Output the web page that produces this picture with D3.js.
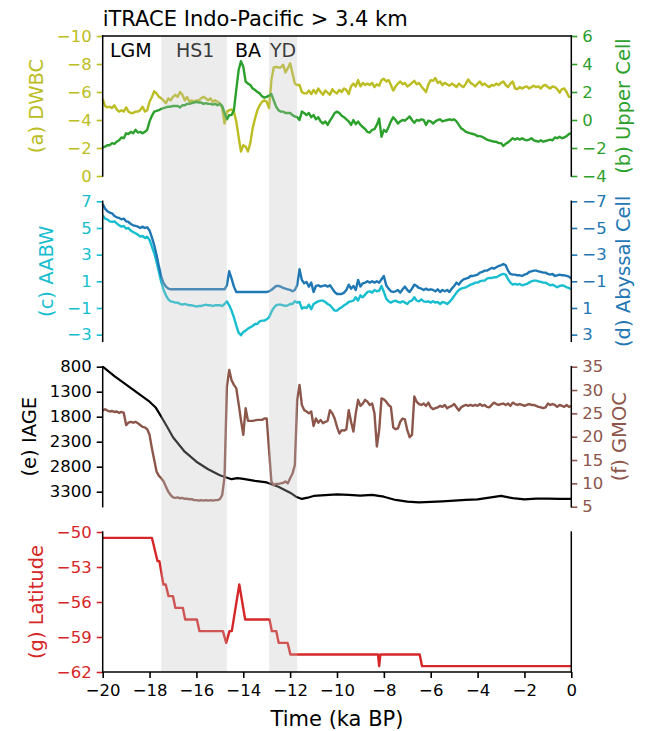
<!DOCTYPE html>
<html>
<head>
<meta charset="utf-8">
<script src="https://cdn.jsdelivr.net/npm/d3@7"></script>
<style>
  body { margin: 0; background: #fff; }
  svg { display: block; font-family: "DejaVu Sans", sans-serif; }
</style>
</head>
<body>
<svg id="chart" width="646" height="731"></svg>
<script>
// ---------------- data ----------------
// model time axis, ka BP (0.1 ka sampling)
const time = [
  -20,-19.9,-19.8,-19.7,-19.6,-19.5,-19.4,-19.3,-19.2,-19.1,
  -19,-18.9,-18.8,-18.7,-18.6,-18.5,-18.4,-18.3,-18.2,-18.1,
  -18,-17.9,-17.8,-17.7,-17.6,-17.5,-17.4,-17.3,-17.2,-17.1,
  -17,-16.9,-16.8,-16.7,-16.6,-16.5,-16.4,-16.3,-16.2,-16.1,
  -16,-15.9,-15.8,-15.7,-15.6,-15.5,-15.4,-15.3,-15.2,-15.1,
  -15,-14.9,-14.8,-14.7,-14.6,-14.5,-14.4,-14.3,-14.2,-14.1,
  -14,-13.9,-13.8,-13.7,-13.6,-13.5,-13.4,-13.3,-13.2,-13.1,
  -13,-12.9,-12.8,-12.7,-12.6,-12.5,-12.4,-12.3,-12.2,-12.1,
  -12,-11.9,-11.8,-11.7,-11.6,-11.5,-11.4,-11.3,-11.2,-11.1,
  -11,-10.9,-10.8,-10.7,-10.6,-10.5,-10.4,-10.3,-10.2,-10.1,
  -10,-9.9,-9.8,-9.7,-9.6,-9.5,-9.4,-9.3,-9.2,-9.1,
  -9,-8.9,-8.8,-8.7,-8.6,-8.5,-8.4,-8.3,-8.2,-8.1,
  -8,-7.9,-7.8,-7.7,-7.6,-7.5,-7.4,-7.3,-7.2,-7.1,
  -7,-6.9,-6.8,-6.7,-6.6,-6.5,-6.4,-6.3,-6.2,-6.1,
  -6,-5.9,-5.8,-5.7,-5.6,-5.5,-5.4,-5.3,-5.2,-5.1,
  -5,-4.9,-4.8,-4.7,-4.6,-4.5,-4.4,-4.3,-4.2,-4.1,
  -4,-3.9,-3.8,-3.7,-3.6,-3.5,-3.4,-3.3,-3.2,-3.1,
  -3,-2.9,-2.8,-2.7,-2.6,-2.5,-2.4,-2.3,-2.2,-2.1,
  -2,-1.9,-1.8,-1.7,-1.6,-1.5,-1.4,-1.3,-1.2,-1.1,
  -1,-0.9,-0.8,-0.7,-0.6,-0.5,-0.4,-0.3,-0.2,-0.1,
  0
];

// (a) deep western boundary current transport, Sv
const dwbc = [
  -5.5,-5.0,-4.9,-4.95,-4.85,-5.05,-4.75,-4.6,-4.7,-4.6,
  -4.9,-4.6,-4.5,-4.5,-4.6,-4.6,-4.7,-4.95,-4.6,-4.7,
  -5.3,-5.65,-6.05,-5.9,-5.65,-5.55,-5.4,-5.2,-5.55,-5.4,
  -5.65,-5.8,-5.65,-6.0,-5.8,-5.4,-5.65,-5.3,-5.4,-5.3,
  -5.4,-5.4,-5.55,-5.65,-5.55,-5.4,-5.55,-5.3,-5.4,-5.3,
  -5.2,-4.85,-3.75,-4.6,-4.7,-4.75,-4.6,-3.9,-2.8,-1.75,
  -2.2,-2.1,-1.75,-2.35,-3.4,-4.1,-4.7,-5.05,-5.3,-5.4,
  -5.3,-4.85,-6.85,-7.75,-7.8,-7.75,-7.75,-7.95,-7.4,-7.7,
  -8.05,-7.35,-6.6,-6.5,-6.5,-6.0,-5.9,-5.9,-6.1,-5.85,
  -6.15,-5.9,-6.25,-6.0,-5.8,-6.1,-5.95,-5.8,-6.2,-6.0,
  -5.9,-6.15,-6.0,-6.25,-6.15,-5.85,-6.4,-6.6,-6.4,-6.85,
  -6.4,-6.65,-6.5,-6.6,-6.5,-6.65,-6.35,-6.55,-6.45,-6.85,
  -6.95,-6.75,-6.85,-6.5,-6.1,-6.4,-6.6,-6.75,-6.55,-6.65,
  -6.4,-6.5,-6.65,-6.8,-6.55,-6.65,-6.4,-6.2,-6.0,-6.55,
  -6.85,-6.8,-7.0,-6.65,-6.75,-6.5,-6.65,-6.55,-6.45,-6.6,
  -6.5,-6.35,-6.6,-6.45,-6.35,-6.6,-6.9,-6.65,-6.55,-6.4,
  -6.6,-6.75,-6.5,-6.6,-6.45,-6.35,-6.5,-6.45,-6.6,-6.5,
  -6.65,-6.75,-6.5,-6.35,-6.6,-6.75,-6.25,-6.2,-6.35,-6.25,
  -6.35,-6.4,-6.25,-6.35,-6.45,-6.35,-6.4,-6.25,-6.45,-6.5,
  -6.35,-6.25,-6.4,-6.35,-6.2,-5.95,-6.2,-6.25,-6.0,-5.65,
  -5.65
];

// (b) upper overturning cell, Sv
const upperCell = [
  -1.95,-1.9,-1.8,-1.8,-1.65,-1.7,-1.55,-1.45,-1.25,-1.3,
  -0.95,-1.0,-0.85,-0.95,-0.7,-0.9,-0.85,-0.95,-0.85,-0.7,
  -0.1,0.3,0.6,0.65,0.7,0.8,0.85,0.9,0.95,0.95,
  1.0,1.0,1.0,0.9,1.05,1.05,1.15,1.15,1.2,1.25,
  1.3,1.25,1.25,1.15,1.2,1.15,1.15,1.1,1.15,1.05,
  1.15,1.0,0.5,0.05,0.35,0.35,0.7,2.15,3.55,4.2,
  3.8,2.75,2.6,2.5,2.25,2.15,2.0,1.9,1.7,1.6,
  1.65,1.75,1.85,1.4,0.95,0.7,0.6,0.6,0.5,0.5,
  0.5,0.35,0.25,0.2,0.0,0.6,0.5,0.35,0.5,0.2,
  0.35,0.05,0.2,-0.1,-0.25,-0.1,-0.35,-0.05,0.2,0.5,
  0.6,0.5,0.3,0.2,0.05,-0.1,-0.35,0.0,-0.3,-0.1,
  -0.35,-0.5,-0.65,-0.85,-0.9,-0.7,-0.65,-0.35,0.1,-1.2,
  -0.7,-0.85,-0.5,-0.1,0.2,0.0,-0.25,-0.1,0.0,-0.05,
  0.1,0.25,0.0,-0.2,0.0,-0.05,0.05,0.0,-0.35,-0.05,
  -0.1,-0.25,-0.1,0.0,0.05,-0.1,-0.05,0.0,0.05,0.0,
  0.05,-0.1,-0.35,-0.6,-0.7,-0.85,-0.9,-0.95,-1.0,-1.05,
  -1.15,-1.15,-1.2,-1.3,-1.4,-1.45,-1.5,-1.55,-1.55,-1.65,
  -1.65,-1.85,-1.7,-1.6,-1.45,-1.3,-1.4,-1.3,-1.4,-1.3,
  -1.4,-1.45,-1.4,-1.3,-1.45,-1.5,-1.55,-1.45,-1.55,-1.5,
  -1.45,-1.4,-1.45,-1.25,-1.3,-1.2,-1.3,-1.25,-1.15,-1.0,
  -0.95
];

// (c) Antarctic bottom water transport, Sv
const aabw = [
  5.95,5.7,5.65,5.5,5.45,5.5,5.35,5.2,5.1,5.15,
  4.95,5.0,4.8,4.7,4.6,4.5,4.35,4.4,4.25,4.35,
  4.1,3.6,3.1,2.45,1.7,0.95,0.35,-0.05,-0.35,-0.5,
  -0.55,-0.6,-0.6,-0.7,-0.75,-0.7,-0.75,-0.8,-0.8,-0.85,
  -0.9,-0.85,-0.85,-0.8,-0.75,-0.8,-0.8,-0.85,-0.8,-0.8,
  -0.8,-0.85,-0.7,-0.5,-0.8,-1.2,-1.7,-2.3,-2.85,-3.05,
  -2.8,-2.7,-2.55,-2.45,-2.35,-2.2,-2.2,-2.0,-1.95,-1.95,
  -1.85,-1.7,-1.3,-1.0,-0.8,-0.75,-0.75,-0.8,-0.85,-0.8,
  -0.7,-0.7,-0.5,-0.6,-0.55,-1.05,-0.95,-1.0,-0.75,-1.1,
  -0.7,-0.6,-0.5,-0.45,-0.45,-0.55,-0.7,-0.8,-1.0,-1.2,
  -1.2,-1.05,-0.95,-0.8,-0.7,-0.55,-0.5,-0.45,-0.2,-0.45,
  -0.05,-0.2,0.0,0.2,0.25,0.15,0.35,0.25,0.3,0.65,
  0.2,-0.3,-0.5,-0.6,-0.5,-0.45,-0.55,-0.6,-0.5,-0.6,
  -0.7,-0.5,-0.45,-0.2,-0.45,-0.5,-0.35,-0.5,-0.55,-0.5,
  -0.6,-0.5,-0.6,-0.55,-0.7,-0.55,-0.6,-0.7,-0.55,-0.35,
  -0.1,0.15,0.35,0.45,0.5,0.55,0.65,0.75,0.8,0.9,
  0.9,1.0,1.05,1.05,1.2,1.25,1.25,1.3,1.3,1.4,
  1.5,1.55,1.5,1.15,0.9,0.75,0.8,0.75,0.8,0.7,
  0.75,0.8,0.9,1.0,1.05,1.05,1.0,0.95,0.9,0.9,
  0.8,0.7,0.75,0.65,0.55,0.65,0.7,0.65,0.55,0.5,
  0.4
];

// (d) abyssal overturning cell, Sv
const abyssalCell = [
  -6.8,-6.45,-6.25,-6.15,-6.1,-5.9,-5.8,-5.75,-5.65,-5.7,
  -5.5,-5.45,-5.3,-5.2,-5.15,-5.1,-5.0,-5.1,-5.0,-5.05,
  -4.8,-4.3,-3.7,-2.95,-2.1,-1.35,-0.85,-0.6,-0.45,-0.4,
  -0.4,-0.4,-0.4,-0.4,-0.4,-0.4,-0.4,-0.4,-0.4,-0.4,
  -0.4,-0.4,-0.4,-0.4,-0.4,-0.4,-0.4,-0.4,-0.4,-0.4,
  -0.4,-0.4,-0.4,-0.7,-1.75,-1.2,-0.6,-0.2,-0.2,-0.2,
  -0.2,-0.2,-0.2,-0.2,-0.2,-0.2,-0.2,-0.2,-0.2,-0.2,
  -0.2,-0.25,-0.35,-0.5,-0.65,-0.65,-0.6,-0.5,-0.45,-0.4,
  -0.35,-0.25,-0.35,-0.7,-1.9,-1.1,-0.85,-0.95,-0.6,-0.9,
  -0.2,-0.65,-0.7,-0.6,-0.65,-0.7,-0.6,-0.7,-0.45,-0.2,
  -0.05,-0.05,-0.05,-0.15,-0.35,-0.75,-0.45,-0.65,-0.35,-1.1,
  -0.6,-0.85,-0.9,-1.0,-0.9,-1.0,-0.9,-1.0,-0.9,-1.15,
  -1.4,-0.7,-0.45,-0.25,-0.2,-0.25,-0.35,-0.15,-0.4,-0.6,
  -0.35,-0.2,-0.45,-0.75,-0.65,-0.5,-0.45,-0.35,-0.45,-0.35,
  -0.4,-0.35,-0.25,-0.4,-0.2,-0.35,-0.25,-0.35,-0.2,-0.45,
  -0.65,-0.9,-0.75,-1.0,-1.15,-1.2,-1.25,-1.4,-1.4,-1.45,
  -1.5,-1.65,-1.7,-1.8,-1.8,-1.9,-2.0,-1.95,-2.05,-2.15,
  -2.2,-2.3,-2.2,-1.8,-1.55,-1.5,-1.5,-1.45,-1.45,-1.4,
  -1.5,-1.55,-1.7,-1.75,-1.8,-1.8,-1.75,-1.7,-1.65,-1.65,
  -1.55,-1.5,-1.55,-1.4,-1.45,-1.5,-1.45,-1.45,-1.4,-1.35,
  -1.2
];

// (f) global overturning, Sv
const gmoc = [
  25.6,25.9,25.6,25.4,25.5,25.3,25.4,25.1,25.3,25.1,
  22.5,23.0,23.2,23.0,23.2,22.9,22.5,22.1,22.0,21.6,
  20.4,17.5,15.0,12.5,11.6,11.1,10.4,9.3,8.2,7.5,
  7.0,6.9,7.0,6.8,6.9,6.7,6.7,6.6,6.6,6.4,
  6.4,6.3,6.4,6.3,6.4,6.3,6.4,6.3,6.4,6.4,
  6.6,7.5,11.4,30.7,34.3,32.1,31.1,30.4,27.1,23.6,
  20.4,26.1,23.4,23.4,23.4,23.5,23.6,23.6,23.6,23.9,
  23.9,17.1,10.4,9.6,9.9,9.9,10.0,10.1,10.4,10.0,
  11.1,12.1,13.9,27.9,31.1,26.8,25.7,25.4,25.0,25.4,
  22.3,23.9,23.0,23.6,22.9,23.2,23.4,25.7,25.0,23.9,
  22.1,20.7,21.4,21.3,21.6,25.7,23.2,21.1,25.0,27.9,
  26.6,27.1,27.9,27.5,26.8,27.1,25.0,17.9,21.4,28.2,
  28.0,27.5,26.8,26.4,22.0,21.6,21.8,23.2,23.9,23.7,
  21.4,19.9,20.4,28.6,27.5,27.0,26.8,27.1,26.6,27.3,
  26.3,25.9,26.1,26.3,26.6,26.4,26.8,26.1,26.4,26.6,
  27.0,26.3,25.6,26.3,26.6,26.8,26.6,26.8,26.6,26.8,
  26.6,27.0,26.6,26.8,26.4,26.3,26.8,27.3,27.0,26.8,
  27.0,27.1,26.8,27.1,26.6,27.3,27.0,26.8,27.0,26.8,
  26.6,26.8,27.0,26.8,26.8,26.6,26.4,26.3,26.1,26.3,
  27.1,26.8,27.0,26.8,26.4,26.8,26.6,26.4,26.8,26.4,
  26.6
];

// (e) ideal age, years
const iageTime = [-20,-19.5,-19,-18.5,-18,-17.75,-17.5,-17.25,-17,-16.5,-16,-15.5,-15,-14.5,-14.25,-14,
  -13.5,-13,-12.5,-12,-11.75,-11.5,-11.25,-11,-10.5,-10,-9.5,-9,-8.5,-8,-7.5,-7,-6.5,-6,-5.5,-5,
  -4.5,-4,-3.5,-3,-2.5,-2,-1.5,-1,-0.5,0];
const iage = [800,990,1160,1330,1500,1610,1800,2000,2210,2500,2700,2850,2970,3050,3030,3045,
  3085,3115,3200,3320,3400,3445,3420,3385,3370,3355,3365,3380,3365,3400,3465,3500,3515,3505,3495,3480,
  3465,3455,3420,3385,3430,3455,3440,3440,3445,3445];

// (g) latitude of the southern boundary, degrees
const latTime = [-20,-17.9,-17.66,-17.58,-17.41,-17.31,-17.19,-17.0,-16.9,-16.58,-16.48,-15.98,-15.87,
  -14.87,-14.73,-14.59,-14.49,-14.17,-13.92,-12.88,-12.78,-12.59,-12.49,-12.11,-11.99,-8.25,-8.2,-8.15,
  -6.47,-6.37,0];
const latitude = [-50.5,-50.5,-52.5,-52.5,-54.5,-54.5,-55.5,-55.5,-56.5,-56.5,-57.5,-57.5,-58.5,
  -58.5,-59.5,-58.5,-58.5,-54.5,-57.5,-57.5,-58.5,-58.5,-59.5,-59.5,-60.5,-60.5,-61.5,-60.5,
  -60.5,-61.5,-61.5];

// climate intervals
const periodStart = [-17.5, -12.9];
const periodEnd = [-14.7, -11.7];
const eventNames = ["LGM", "HS1", "BA", "YD"];
const eventTimes = [-18.8, -16.05, -13.8, -12.3];

// tick values
const timeTicks = [-20,-18,-16,-14,-12,-10,-8,-6,-4,-2,0];
const dwbcTicks = [0,-2,-4,-6,-8,-10];
const upperTicks = [-4,-2,0,2,4,6];
const aabwTicks = [-3,-1,1,3,5,7];
const abyssalTicks = [-7,-5,-3,-1,1,3];
const iageTicks = [800,1300,1800,2300,2800,3300];
const gmocTicks = [5,10,15,20,25,30,35];
const latTicks = [-62,-59,-56,-53,-50];

// ---------------- layout ----------------
const FONT = '"DejaVu Sans", sans-serif';
const TICK_FS = 16.5, LABEL_FS = 19.5, TITLE_FS = 21, EVENT_FS = 19;
const LW = 2.4;
const C = {
  olive: "#bcbd22", green: "#2ca02c", cyan: "#17becf", blue: "#1f77b4",
  brown: "#8c564b", red: "#d62728", black: "#000000"
};

const svg = d3.select("#chart");
const left = 102.7, right = 571.3;
const x = d3.scaleLinear().domain([-20, 0]).range([left, right]);

const panels = [
  { top: 36, bottom: 176 },
  { top: 201.3, bottom: 341.3 },
  { top: 366.7, bottom: 506.7 },
  { top: 532, bottom: 672 }
];

const yA = d3.scaleLinear().domain([0, -10]).range([panels[0].bottom, panels[0].top]);
const yB = d3.scaleLinear().domain([-4, 6]).range([panels[0].bottom, panels[0].top]);
const yC = d3.scaleLinear().domain([-3.5, 7]).range([panels[1].bottom, panels[1].top]);
const yD = d3.scaleLinear().domain([3.5, -7]).range([panels[1].bottom, panels[1].top]);
const yE = d3.scaleLinear().domain([3600, 800]).range([panels[2].bottom, panels[2].top]);
const yF = d3.scaleLinear().domain([5, 35]).range([panels[2].bottom, panels[2].top]);
const yG = d3.scaleLinear().domain([-62, -50]).range([panels[3].bottom, panels[3].top]);

const gLines = svg.append("g");
const gText = svg.append("g");
const gBands = svg.append("g");
const gAxes = svg.append("g");

// ---------------- series ----------------
function drawSeries(ts, vs, yScale, color, width) {
  const pts = ts.map((t, i) => [t, vs[i]]);
  gLines.append("path")
    .datum(pts)
    .attr("fill", "none")
    .attr("stroke", color)
    .attr("stroke-width", width || LW)
    .attr("stroke-linejoin", "round")
    .attr("stroke-linecap", "butt")
    .attr("d", d3.line().x(d => x(d[0])).y(d => yScale(d[1])));
}

drawSeries(time, dwbc, yA, C.olive);
drawSeries(time, upperCell, yB, C.green);
drawSeries(time, aabw, yC, C.cyan);
drawSeries(time, abyssalCell, yD, C.blue);
drawSeries(iageTime, iage, yE, C.black, 2.2);
drawSeries(time, gmoc, yF, C.brown);
drawSeries(latTime, latitude, yG, C.red);

// interval labels in the top panel
gText.selectAll("text.event")
  .data(eventNames)
  .join("text")
  .attr("class", "event")
  .attr("x", (d, i) => x(eventTimes[i]))
  .attr("y", 57)
  .attr("text-anchor", "middle")
  .attr("font-family", FONT)
  .attr("font-size", EVENT_FS)
  .attr("fill", "#000")
  .text(d => d);

// shaded HS1 and YD intervals across all panels
gBands.selectAll("rect")
  .data(periodStart)
  .join("rect")
  .attr("x", (d) => x(d))
  .attr("width", (d, i) => x(periodEnd[i]) - x(d))
  .attr("y", panels[0].top)
  .attr("height", panels[3].bottom - panels[0].top)
  .attr("fill", "rgb(192,192,192)")
  .attr("fill-opacity", 0.3);

// ---------------- axes ----------------
function yAxis(scale, side, ticks, color) {
  const ax = side === "left" ? d3.axisLeft(scale) : d3.axisRight(scale);
  ax.tickValues(ticks).tickSize(6).tickPadding(5).tickFormat(d3.format("d"));
  const g = gAxes.append("g")
    .attr("transform", `translate(${side === "left" ? left : right},0)`)
    .call(ax)
    .attr("font-family", FONT)
    .attr("font-size", TICK_FS);
  g.select(".domain").remove();
  g.selectAll(".tick line").attr("stroke", color).attr("stroke-width", 1.6);
  g.selectAll(".tick text").attr("fill", color);
  return g;
}

function sideLabel(axisG, text, color, panel, side, gap) {
  const texts = axisG.selectAll(".tick text").nodes();
  const edge = side === "left"
    ? left + d3.min(texts, n => n.getBBox().x) - gap
    : right + d3.max(texts, n => n.getBBox().x + n.getBBox().width) + gap;
  const cy = (panel.top + panel.bottom) / 2;
  const t = gAxes.append("text")
    .text(text)
    .attr("fill", color)
    .attr("font-family", FONT)
    .attr("font-size", LABEL_FS)
    .attr("text-anchor", "middle")
    .attr("transform", `translate(0,${cy}) rotate(-90)`);
  const b = t.node().getBBox();
  const tx = side === "left" ? edge - (b.y + b.height) : edge - b.y;
  t.attr("transform", `translate(${tx},${cy}) rotate(-90)`);
}

const axA = yAxis(yA, "left", dwbcTicks, C.olive);
const axB = yAxis(yB, "right", upperTicks, C.green);
const axC = yAxis(yC, "left", aabwTicks, C.cyan);
const axD = yAxis(yD, "right", abyssalTicks, C.blue);
const axE = yAxis(yE, "left", iageTicks, C.black);
const axF = yAxis(yF, "right", gmocTicks, C.brown);
const axG = yAxis(yG, "left", latTicks, C.red);

sideLabel(axA, "(a) DWBC", C.olive, panels[0], "left", 9);
sideLabel(axB, "(b) Upper Cell", C.green, panels[0], "right", 5);
sideLabel(axC, "(c) AABW", C.cyan, panels[1], "left", 9);
sideLabel(axD, "(d) Abyssal Cell", C.blue, panels[1], "right", 5);
sideLabel(axE, "(e) IAGE", C.black, panels[2], "left", 9);
sideLabel(axF, "(f) GMOC", C.brown, panels[2], "right", 5);
sideLabel(axG, "(g) Latitude", C.red, panels[3], "left", 9);

// bottom time axis
const axX = gAxes.append("g")
  .attr("transform", `translate(0,${panels[3].bottom})`)
  .call(d3.axisBottom(x).tickValues(timeTicks).tickSize(6).tickPadding(6).tickFormat(d3.format("d")))
  .attr("font-family", FONT)
  .attr("font-size", TICK_FS);
axX.select(".domain").remove();
axX.selectAll(".tick line").attr("stroke", "#000").attr("stroke-width", 1.6);
axX.selectAll(".tick text").attr("fill", "#000");

// spines
const spines = [];
panels.forEach((p) => {
  spines.push([left, p.top, left, p.bottom]);
  spines.push([right, p.top, right, p.bottom]);
});
spines.push([left, panels[0].top, right, panels[0].top]);
spines.push([left, panels[3].bottom, right, panels[3].bottom]);
gAxes.selectAll("line.spine")
  .data(spines)
  .join("line")
  .attr("class", "spine")
  .attr("x1", d => d[0]).attr("y1", d => d[1])
  .attr("x2", d => d[2]).attr("y2", d => d[3])
  .attr("stroke", "#000")
  .attr("stroke-width", 1.5)
  .attr("stroke-linecap", "square");

// titles
svg.append("text")
  .attr("x", left)
  .attr("y", 26)
  .attr("font-family", FONT)
  .attr("font-size", TITLE_FS)
  .attr("fill", "#000")
  .text("iTRACE Indo-Pacific > 3.4 km");

svg.append("text")
  .attr("x", (left + right) / 2)
  .attr("y", 726)
  .attr("text-anchor", "middle")
  .attr("font-family", FONT)
  .attr("font-size", TITLE_FS)
  .attr("fill", "#000")
  .text("Time (ka BP)");
</script>
</body>
</html>
